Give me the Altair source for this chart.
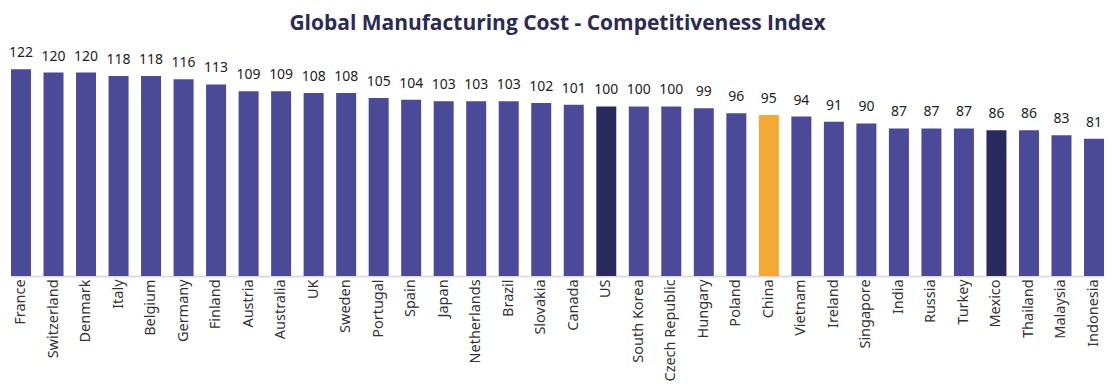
import altair as alt
import pandas as pd

countries = ["France", "Switzerland", "Denmark", "Italy", "Belgium", "Germany", "Finland",
             "Austria", "Australia", "UK", "Sweden", "Portugal", "Spain", "Japan",
             "Netherlands", "Brazil", "Slovakia", "Canada", "US", "South Korea",
             "Czech Republic", "Hungary", "Poland", "China", "Vietnam", "Ireland",
             "Singapore", "India", "Russia", "Turkey", "Mexico", "Thailand", "Malaysia",
             "Indonesia"]
values = [122, 120, 120, 118, 118, 116, 113, 109, 109, 108, 108, 105, 104, 103,
          103, 103, 102, 101, 100, 100, 100, 99, 96, 95, 94, 91, 90, 87, 87, 87,
          86, 86, 83, 81]
groups = ["Other"] * len(countries)
for i, c in enumerate(countries):
    if c in ("US", "Mexico"):
        groups[i] = "Highlight"
    elif c == "China":
        groups[i] = "China"

df = pd.DataFrame({"country": countries, "value": values, "group": groups})

x = alt.X("country:N", sort=countries,
          scale=alt.Scale(paddingInner=0.385, paddingOuter=0),
          axis=alt.Axis(title=None, labelAngle=-90, labelFont="Noto Sans", labelFontSize=14.5,
                        labelColor="#333333", ticks=False, domainColor="#dcdce8",
                        domainWidth=2, labelPadding=3))
y = alt.Y("value:Q", scale=alt.Scale(domain=[0, 135], nice=False), axis=None)

bars = alt.Chart(df).mark_bar().encode(
    x=x, y=y,
    color=alt.Color("group:N",
                    scale=alt.Scale(domain=["Other", "Highlight", "China"],
                                    range=["#4a4a98", "#2a2a5e", "#f4a935"]),
                    legend=None),
)
labels = alt.Chart(df).mark_text(dy=-9, baseline="bottom", font="Noto Sans",
                                 fontSize=14, color="#222222").encode(
    x=x, y=y, text="value:Q")

chart = (bars + labels).properties(
    width=1094, height=229,
    padding={"top": 5, "left": 0, "right": 0, "bottom": 0},
    title=alt.TitleParams("Global Manufacturing Cost - Competitiveness Index",
                          font="Open Sans", fontSize=21, fontWeight="bold",
                          color="#2b2b55", anchor="middle", offset=12),
).configure_view(stroke=None)

chart.save("out.html", embed_options={"renderer": "svg", "actions": False})
